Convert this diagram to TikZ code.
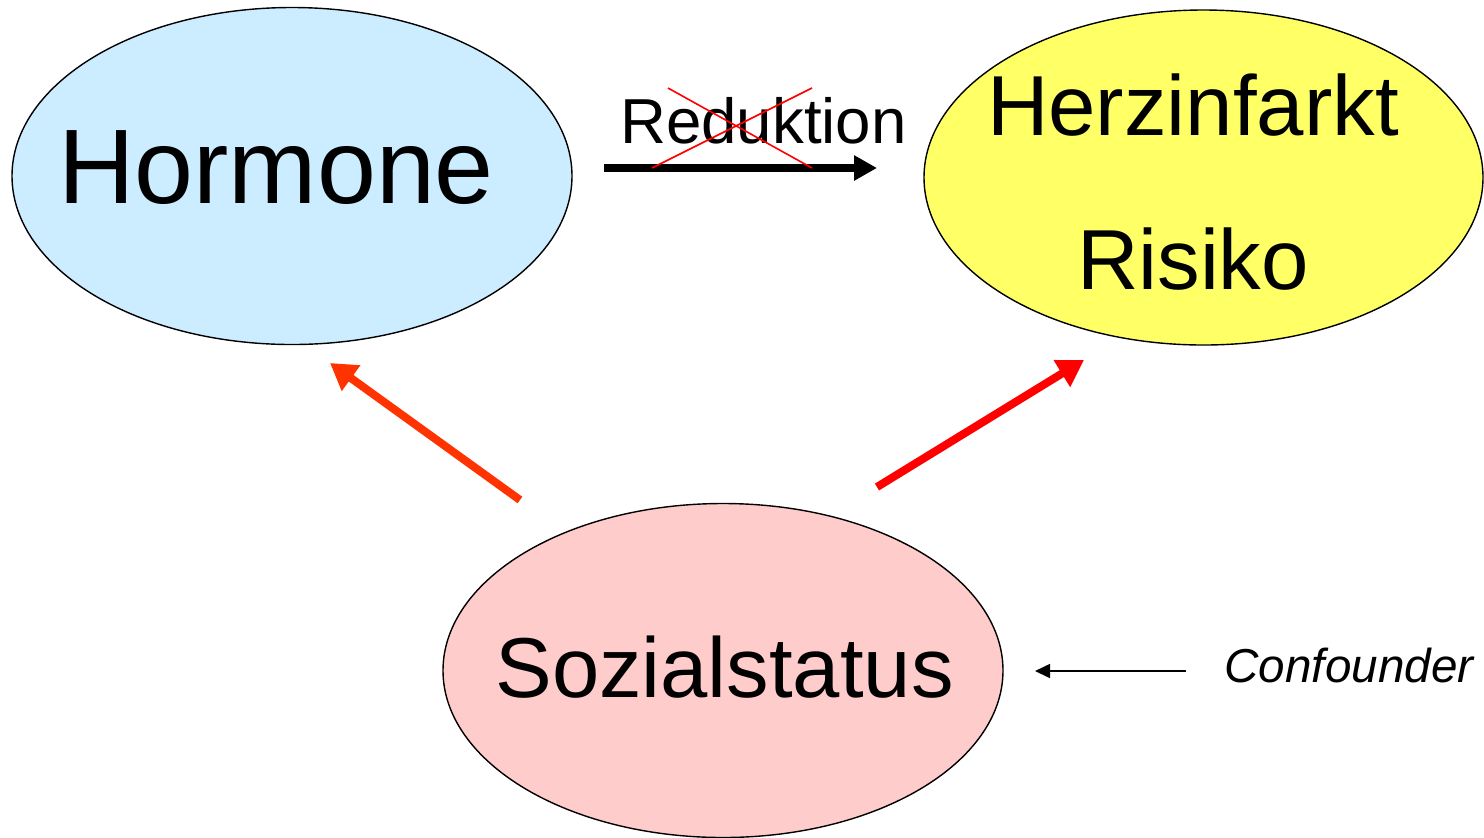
\documentclass[tikz,border=0pt]{standalone}
\usepackage{fontspec}
\setmainfont{Liberation Sans}
\usetikzlibrary{shapes.geometric,arrows.meta}
\definecolor{hormblue}{HTML}{CCECFF}
\definecolor{herzyellow}{HTML}{FFFF66}
\definecolor{sozpink}{HTML}{FFCCCC}
\definecolor{arrorange}{HTML}{FF3300}
\definecolor{arrred}{HTML}{FF0000}
\tikzset{
  blob/.style={ellipse, draw=black, line width=0.7pt, inner sep=0pt},
  lbl/.style={anchor=base, inner sep=0pt},
  redarrow/.style={line width=4pt, -{Triangle[length=13pt,width=15pt]}},
}
\begin{document}
\begin{tikzpicture}[x=0.5pt,y=-0.5pt]
\useasboundingbox (0,0) rectangle (1484,837);
% ellipses
\node[blob, fill=hormblue, minimum width=280pt, minimum height=168.5pt] (hormE) at (292,176) {};
\node[blob, fill=herzyellow, minimum width=279.5pt, minimum height=167.5pt] (herzE) at (1203.5,177.5) {};
\node[blob, fill=sozpink, minimum width=280pt, minimum height=167pt] (sozE) at (723,670.5) {};
% texts
\node[lbl, font=\fontsize{53}{60}\selectfont] (hormT) at (276,203) {Hormone};
\node[lbl, font=\fontsize{42.6}{50}\selectfont] (herzT1) at (1193,135) {Herzinfarkt};
\node[lbl, font=\fontsize{42.6}{50}\selectfont] (herzT2) at (1193,289) {Risiko};
\node[lbl, font=\fontsize{42.5}{50}\selectfont] (sozT) at (724.5,697) {Sozialstatus};
\node[lbl, font=\fontsize{31.8}{38}\selectfont] (redT) at (763.5,143) {Reduktion};
\node[lbl, font=\fontsize{23.8}{28}\selectfont\itshape] (confT) at (1349,682) {Confounder};
% arrow coordinates
\coordinate (bA) at (604,168);
\coordinate (bB) at (877,168);
\coordinate (lA) at (520,500);
\coordinate (lB) at (330,363);
\coordinate (rA) at (877,487);
\coordinate (rB) at (1084,360);
\coordinate (cA) at (1186,671);
\coordinate (cB) at (1035,671);
\coordinate (x1a) at (652,168);
\coordinate (x1b) at (812,88);
\coordinate (x2a) at (668,88);
\coordinate (x2b) at (812,168);
% arrows
\draw[line width=3.6pt, -{Triangle[length=11.5pt,width=12pt]}] (bA) -- (bB);
\draw[red, line width=0.8pt] (x1a) -- (x1b);
\draw[red, line width=0.8pt] (x2a) -- (x2b);
\draw[redarrow, arrorange] (lA) -- (lB);
\draw[redarrow, arrred] (rA) -- (rB);
\draw[line width=0.8pt, -{Triangle[length=7.5pt,width=7pt]}] (cA) -- (cB);
\end{tikzpicture}
\end{document}
